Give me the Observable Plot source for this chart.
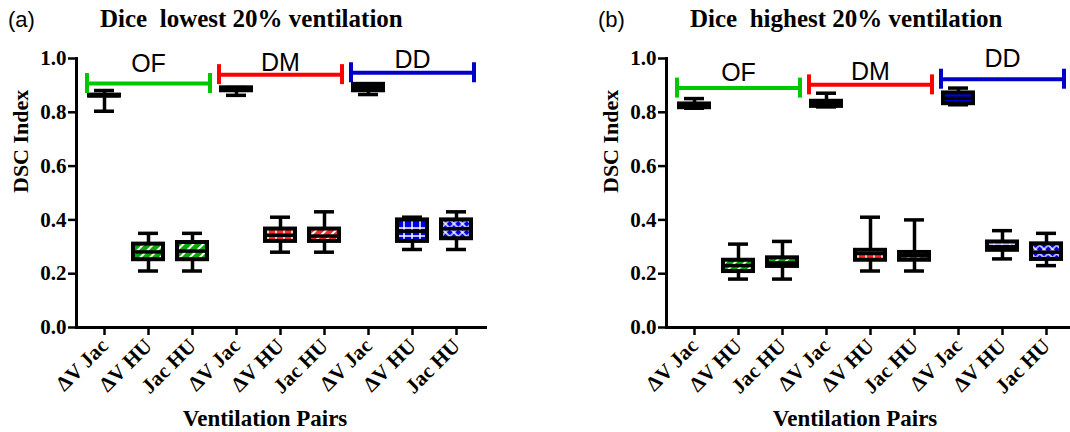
<!DOCTYPE html>
<html>
<head>
<meta charset="utf-8">
<script src="https://cdn.jsdelivr.net/npm/d3@7"></script>
<script src="https://cdn.jsdelivr.net/npm/@observablehq/plot@0.6"></script>
<style>
  html, body { margin: 0; padding: 0; background: #fff; overflow: hidden; }
  #wrap { position: relative; width: 1070px; height: 432px; overflow: hidden; }
  .panel { position: absolute; top: 0; width: 490px; height: 432px; }
  .tag { position: absolute; left: 8px; top: 9px; font: 22px "Liberation Sans", Arial, sans-serif; line-height: 22px; color: #000; }
  .title { position: absolute; left: 100px; top: 6px; font: bold 25px "Liberation Serif", "Times New Roman", serif; line-height: 25px; color: #000; white-space: pre; }
  .chart { position: absolute; left: 0; top: 40px; }
</style>
</head>
<body>
<div id="wrap">
  <div class="panel" id="pa" style="left:0px"><div class="tag">(a)</div><div class="title">Dice  lowest 20% ventilation</div><div class="chart"></div></div>
  <div class="panel" id="pb" style="left:590px"><div class="tag">(b)</div><div class="title">Dice  highest 20% ventilation</div><div class="chart"></div></div>
</div>
<script>
// ---------- data ----------
const groups = ["OF", "DM", "DD"];
const pairs = ["ΔV Jac", "ΔV HU", "Jac HU"];
const yTicks = [0, 0.2, 0.4, 0.6, 0.8, 1.0];
const yLabel = "DSC Index";
const xLabel = "Ventilation Pairs";

// (a) lowest 20% ventilation — box statistics per (group, pair)
const lowMin = [0.804, 0.21, 0.21, 0.863, 0.28, 0.28, 0.866, 0.29, 0.29];
const lowQ1  = [0.860, 0.252, 0.252, 0.880, 0.320, 0.320, 0.880, 0.320, 0.330];
const lowMed = [0.862, 0.281, 0.284, 0.885, 0.343, 0.340, 0.892, 0.358, 0.367];
const lowQ3  = [0.864, 0.310, 0.316, 0.891, 0.366, 0.366, 0.904, 0.400, 0.400];
const lowMax = [0.881, 0.35, 0.35, 0.892, 0.41, 0.43, 0.906, 0.41, 0.43];
const lowBracket = [0.907, 0.94, 0.947];
const lowLabelY = [0.949, 0.953, 0.965];

// (b) highest 20% ventilation
const highMin = [0.815, 0.18, 0.18, 0.82, 0.21, 0.21, 0.828, 0.255, 0.23];
const highQ1  = [0.817, 0.208, 0.227, 0.822, 0.25, 0.25, 0.832, 0.287, 0.253];
const highMed = [0.824, 0.23, 0.24, 0.832, 0.275, 0.267, 0.852, 0.30, 0.28];
const highQ3  = [0.831, 0.25, 0.259, 0.841, 0.287, 0.279, 0.872, 0.318, 0.311];
const highMax = [0.851, 0.31, 0.32, 0.871, 0.41, 0.40, 0.89, 0.36, 0.35];
const highBracket = [0.89, 0.902, 0.923];
const highLabelY = [0.917, 0.921, 0.969];

// ---------- styles ----------
const boxColor = {OF: "#0aa80a", DM: "#ff2a2a", DD: "#0000e6"};
const bracketColor = {OF: "#00c800", DM: "#ff0000", DD: "#0000c8"};
const patternOf = {
  OF: {"ΔV Jac": null, "ΔV HU": "diag", "Jac HU": "diag"},
  DM: {"ΔV Jac": null, "ΔV HU": "grid", "Jac HU": "diag"},
  DD: {"ΔV Jac": null, "ΔV HU": "grid", "Jac HU": "cross"}
};

const keys = groups.flatMap(g => pairs.map(p => g + "|" + p));
const W = 490, H = 392, ML = 76, MR = 5, MT = 18, MB = 105;
const PI = 0.31, PO = 0.2;
const xs = Plot.scale({x: {type: "band", domain: keys, range: [ML, W - MR], paddingInner: PI, paddingOuter: PO}});
const bw = xs.bandwidth;

function addPatterns(svg, prefix) {
  const defs = d3.select(svg).insert("defs", ":first-child");
  for (const g of groups) {
    const c = boxColor[g];
    let p = defs.append("pattern").attr("id", `${prefix}-diag-${g}`).attr("patternUnits", "userSpaceOnUse")
      .attr("width", 7).attr("height", 7).attr("patternTransform", "rotate(45)");
    p.append("rect").attr("width", 7).attr("height", 7).attr("fill", c);
    p.append("line").attr("x1", 1).attr("y1", 0).attr("x2", 1).attr("y2", 7).attr("stroke", "#fff").attr("stroke-width", 2);
    p = defs.append("pattern").attr("id", `${prefix}-grid-${g}`).attr("patternUnits", "userSpaceOnUse")
      .attr("width", 8).attr("height", 8);
    p.append("rect").attr("width", 8).attr("height", 8).attr("fill", c);
    p.append("path").attr("d", "M4,0V8M0,4H8").attr("stroke", "#fff").attr("stroke-width", 1.5);
    p = defs.append("pattern").attr("id", `${prefix}-cross-${g}`).attr("patternUnits", "userSpaceOnUse")
      .attr("width", 6).attr("height", 6).attr("patternTransform", "rotate(45)");
    p.append("rect").attr("width", 6).attr("height", 6).attr("fill", c);
    p.append("path").attr("d", "M1,0V6M0,1H6").attr("stroke", "#fff").attr("stroke-width", 1.3);
  }
}

function panel(prefix, mins, q1s, meds, q3s, maxs, brackets, labelYs) {
  const rows = keys.map((k, i) => {
    const [g, p] = k.split("|");
    const pat = patternOf[g][p];
    return {key: k, group: g, pair: p, min: mins[i], q1: q1s[i], med: meds[i], q3: q3s[i], max: maxs[i],
      fill: pat ? `url(#${prefix}-${pat}-${g})` : boxColor[g]};
  });
  const grp = groups.map((g, j) => ({
    group: g, level: brackets[j], labelY: labelYs[j],
    first: g + "|" + pairs[0], mid: g + "|" + pairs[1], last: g + "|" + pairs[2],
    color: bracketColor[g]
  }));
  const svg = Plot.plot({
    width: W, height: H,
    marginLeft: ML, marginRight: MR, marginTop: MT, marginBottom: MB,
    x: {type: "band", domain: keys, paddingInner: PI, paddingOuter: PO, axis: null},
    y: {domain: [0, 1], axis: null},
    color: {type: "identity"},
    style: {fontFamily: "'Liberation Serif', 'Times New Roman', serif", fontWeight: "bold", color: "#000", background: "transparent", overflow: "visible"},
    marks: [
      Plot.axisY(yTicks, {tickFormat: d3.format(".1f"), tickSize: 8, tickPadding: 2, strokeWidth: 2.5, fontSize: 21, fontWeight: "bold", label: null}),
      Plot.axisX({tickRotate: -45, tickSize: 8, tickPadding: 7, strokeWidth: 2.5, fontSize: 21, fontWeight: "bold",
        tickFormat: k => k.split("|")[1], label: null}),
      Plot.frame({anchor: "left", strokeWidth: 3}),
      Plot.frame({anchor: "bottom", strokeWidth: 3}),
      Plot.text([yLabel], {frameAnchor: "left", rotate: -90, dx: -56, fontSize: 22, fontWeight: "bold"}),
      Plot.text([xLabel], {frameAnchor: "bottom", dx: -16, dy: 98, fontSize: 23, fontWeight: "bold"}),
      // whiskers
      Plot.ruleX(rows, {x: "key", y1: "min", y2: "max", strokeWidth: 3.5, stroke: "#000"}),
      // boxes
      Plot.barY(rows, {x: "key", y1: "q1", y2: "q3", fill: "fill", stroke: "#000", strokeWidth: 4}),
      Plot.tickY(rows, {x: "key", y: "med", strokeWidth: 3.5, stroke: "#000"}),
      Plot.tickY(rows, {x: "key", y: "min", strokeWidth: 3.5, stroke: "#000", insetLeft: 5, insetRight: 5}),
      Plot.tickY(rows, {x: "key", y: "max", strokeWidth: 3.5, stroke: "#000", insetLeft: 5, insetRight: 5}),
      // group brackets
      Plot.ruleY(grp, {x1: "first", x2: "last", y: "level", stroke: "color", strokeWidth: 4, insetLeft: -2, insetRight: -2}),
      Plot.ruleX(grp, {x: "first", y1: "level", y2: "level", dx: -(bw / 2 + 2), insetTop: 10, insetBottom: 10, stroke: "color", strokeWidth: 4}),
      Plot.ruleX(grp, {x: "last", y1: "level", y2: "level", dx: bw / 2 + 2, insetTop: 10, insetBottom: 10, stroke: "color", strokeWidth: 4}),
      Plot.text(grp, {x: "mid", y: "labelY", text: "group", lineAnchor: "bottom", fontSize: 25, fontFamily: "'Liberation Sans', Arial, sans-serif", fontWeight: "normal", fill: "#000"})
    ]
  });
  addPatterns(svg, prefix);
  return svg;
}

document.querySelector("#pa .chart").append(panel("pa", lowMin, lowQ1, lowMed, lowQ3, lowMax, lowBracket, lowLabelY));
document.querySelector("#pb .chart").append(panel("pb", highMin, highQ1, highMed, highQ3, highMax, highBracket, highLabelY));
</script>
</body>
</html>
